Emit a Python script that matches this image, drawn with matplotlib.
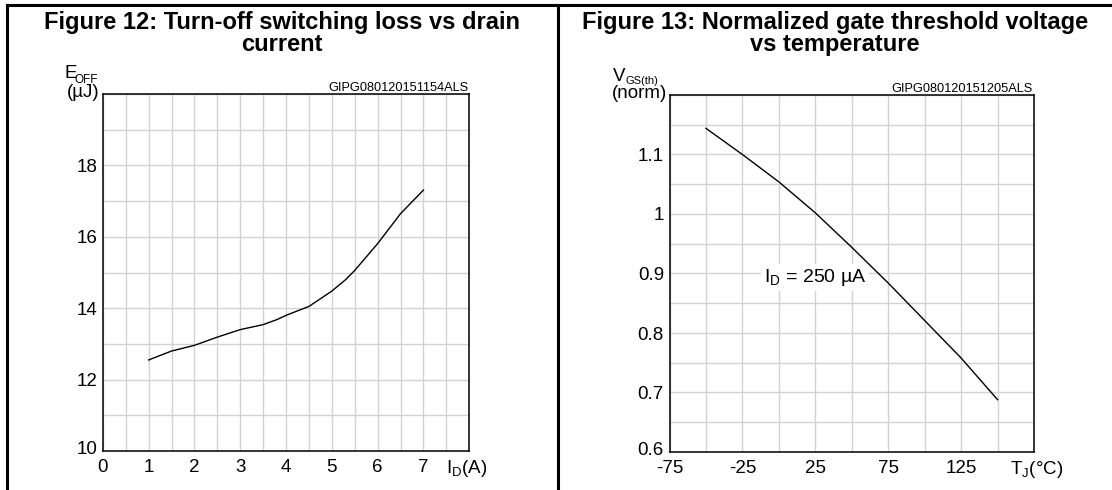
import matplotlib
matplotlib.use("Agg")
import matplotlib.pyplot as plt
from matplotlib.lines import Line2D
from matplotlib.ticker import MultipleLocator
from matplotlib.transforms import ScaledTranslation

plt.rcParams['font.family'] = ['Liberation Sans', 'DejaVu Sans']
plt.rcParams['axes.unicode_minus'] = False

# Figure 12 data: turn-off switching loss vs drain current
id_amps = [1.0, 1.5, 2.0, 2.5, 3.0, 3.5, 3.8, 4.0, 4.5, 5.0, 5.3, 5.5, 6.0, 6.5, 7.0]
eoff_uj = [12.55, 12.80, 12.96, 13.19, 13.40, 13.54, 13.68, 13.80, 14.05, 14.48,
           14.80, 15.06, 15.81, 16.65, 17.31]
eoff_xticks = [0, 1, 2, 3, 4, 5, 6, 7]
eoff_yticks = [10, 12, 14, 16, 18]

# Figure 13 data: normalized gate threshold voltage vs temperature
tj_degc = [-50, -25, 0, 25, 50, 75, 100, 125, 150]
vgs_norm = [1.144, 1.100, 1.054, 1.002, 0.944, 0.884, 0.821, 0.758, 0.688]
vgs_xticks = [-75, -25, 25, 75, 125]
vgs_yticks = [0.6, 0.7, 0.8, 0.9, 1.0, 1.1]
vgs_ylabels = ['0.6', '0.7', '0.8', '0.9', '1', '1.1']

W, H = 1112, 490
fig = plt.figure(figsize=(W / 100, H / 100), dpi=100)


def px_axes(left, top, right, bottom):
    return fig.add_axes([left / W, 1 - bottom / H, (right - left) / W, (bottom - top) / H])


def style(ax):
    ax.grid(which='both', color='#d2d2d2', lw=1.0)
    ax.set_axisbelow(True)
    for s in ax.spines.values():
        s.set_color('black')
        s.set_linewidth(1.1)
    ax.tick_params(which='both', length=0, labelsize=13.5, pad=6)
    ax.tick_params(axis='y', pad=4)
    # lowest y label sits a little above the axis line
    lowest = ax.get_yticklabels()[0]
    lowest.set_transform(lowest.get_transform() + ScaledTranslation(0, 0.04, fig.dpi_scale_trans))


# left panel
ax1 = px_axes(102.8, 94, 469.3, 451)
ax1.plot(id_amps, eoff_uj, color='black', lw=1.0, zorder=3)
ax1.set_xlim(0, 8)
ax1.set_ylim(10, 20)
ax1.set_xticks(eoff_xticks)
ax1.set_yticks(eoff_yticks)
ax1.xaxis.set_minor_locator(MultipleLocator(0.5))
ax1.yaxis.set_minor_locator(MultipleLocator(1))
style(ax1)

# right panel
ax2 = px_axes(669.5, 95, 1034, 452)
ax2.plot(tj_degc, vgs_norm, color='black', lw=1.0, zorder=3)
ax2.set_xlim(-75, 175)
ax2.set_ylim(0.6, 1.2)
ax2.set_xticks(vgs_xticks)
ax2.set_yticks(vgs_yticks, vgs_ylabels)
ax2.xaxis.set_minor_locator(MultipleLocator(25))
ax2.yaxis.set_minor_locator(MultipleLocator(0.05))
style(ax2)

ax2.text(-10.5, 0.893, r'I$_\mathregular{D}$ = 250 µA', fontsize=14, va='center', ha='left',
         zorder=2.5, bbox=dict(facecolor='white', edgecolor='none', pad=2))


def lab(ax, s, dx, dy, size, ha='left'):
    ax.annotate(s, xy=(0, 1), xycoords='axes fraction', xytext=(dx, dy),
                textcoords='offset pixels', fontsize=size, ha=ha, va='baseline')


# y axis labels
lab(ax1, 'E', -38, 16.5, 13.5)
lab(ax1, 'OFF', -28, 11.5, 8.5)
lab(ax1, '(µJ)', -3, -3, 13.5, ha='right')
lab(ax2, 'V', -56.5, 14, 13.5)
lab(ax2, 'GS(th)', -43.5, 11, 8)
lab(ax2, '(norm)', -2.5, -2.5, 13.5, ha='right')

# codes above plots
for ax, code in [(ax1, 'GIPG080120151154ALS'), (ax2, 'GIPG080120151205ALS')]:
    ax.annotate(code, xy=(1, 1), xycoords='axes fraction', xytext=(-1, 3),
                textcoords='offset pixels', fontsize=9.2, ha='right', va='baseline')

# x axis labels
ax1.annotate(r'I$_\mathregular{D}$(A)', xy=(7.5, 0), xycoords=('data', 'axes fraction'),
             xytext=(0, -22), textcoords='offset pixels', fontsize=13.5, ha='left', va='baseline')
ax2.annotate(r'T$_\mathregular{J}$(°C)', xy=(158.5, 0), xycoords=('data', 'axes fraction'),
             xytext=(0, -22), textcoords='offset pixels', fontsize=13.5, ha='left', va='baseline')

# titles
fig.text(282 / W, 1 - 11 / H, 'Figure 12: Turn-off switching loss vs drain\ncurrent',
         ha='center', va='top', fontsize=17, fontweight='bold', linespacing=0.95)
fig.text(835 / W, 1 - 11 / H, 'Figure 13: Normalized gate threshold voltage\nvs temperature',
         ha='center', va='top', fontsize=17, fontweight='bold', linespacing=0.95)

# panel frame lines
top = 1 - 5 / H
for l in [Line2D([7 / W, 1], [top, top]),
          Line2D([7 / W, 7 / W], [0, top]),
          Line2D([557.5 / W, 557.5 / W], [0, top])]:
    l.set_color('black')
    l.set_linewidth(2.2)
    l.set_transform(fig.transFigure)
    fig.add_artist(l)

fig.savefig('out.png', dpi=100)
